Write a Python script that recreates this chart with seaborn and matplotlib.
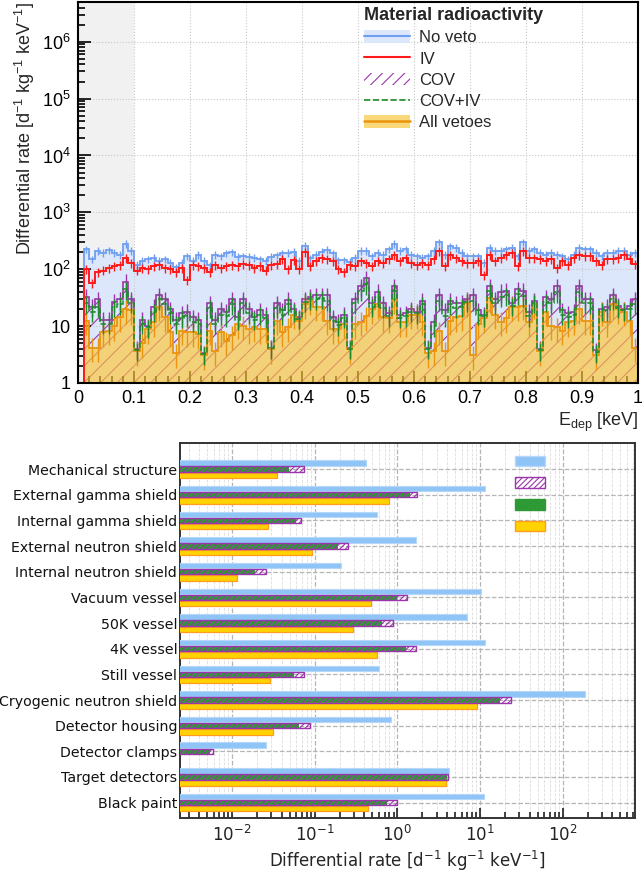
import numpy as np
import pandas as pd
import seaborn as sns
import matplotlib
matplotlib.use('Agg')
from matplotlib import pyplot as plt
from matplotlib.patches import Patch
from matplotlib.lines import Line2D
from matplotlib.ticker import MultipleLocator, LogLocator, FuncFormatter, NullFormatter

# ---- top panel: spectrum, 100 bins of 0.01 keV ----
edges = np.linspace(0, 1, 101)

no_veto = [0, 225, 150, 210, 195, 215, 195, 180, 280, 210, 120, 140, 150, 160, 140, 150, 130, 108, 130, 170, 140, 180, 140, 118, 180,
           170, 190, 200, 165, 170, 165, 160, 150, 140, 165, 175, 190, 195, 205, 140, 260, 155, 180, 205, 220, 190, 145, 145, 135, 160,
           210, 210, 170, 195, 180, 225, 280, 210, 225, 180, 170, 160, 170, 210, 300, 180, 255, 240, 195, 170, 170, 170, 130, 240, 210,
           210, 225, 240, 170, 300, 210, 225, 195, 180, 195, 180, 170, 150, 180, 240, 225, 225, 195, 170, 195, 195, 210, 210, 180, 195]
iv = [0, 100, 57, 90, 95, 105, 113, 120, 160, 130, 95, 105, 100, 113, 120, 105, 100, 88, 105, 65, 120, 113, 105, 88, 120,
      105, 115, 120, 113, 125, 120, 105, 113, 95, 120, 125, 150, 100, 145, 100, 200, 113, 140, 160, 150, 140, 100, 90, 120, 113,
      140, 130, 113, 140, 130, 150, 180, 140, 160, 130, 120, 130, 120, 150, 210, 113, 180, 160, 140, 130, 130, 140, 80, 180, 140,
      160, 180, 190, 113, 210, 160, 160, 150, 140, 150, 105, 140, 120, 160, 180, 171, 171, 140, 120, 150, 150, 160, 180, 150, 125]
cov = [0, 33, 22, 30, 13, 13, 27, 30, 60, 30, 4, 13, 10, 22, 35, 30, 20, 13, 17, 18, 14.5, 13, 3.3, 25, 13,
       20, 18, 30, 14.5, 30, 20, 14.5, 19, 16, 4.2, 25, 19, 29, 20, 14.5, 30, 33, 35, 35, 35, 14.5, 12, 16, 4.2, 30,
       50, 70, 25, 40, 25, 17, 50, 16, 17, 20, 18, 28, 4.2, 12, 35, 19, 28, 25, 26, 30, 35, 19, 16, 50, 30,
       40, 42, 25, 45, 42, 18, 28, 4, 32, 30, 50, 19, 17, 18, 50, 30, 30, 3.8, 20, 22, 35, 23, 20, 23, 30]
cov_iv = [0, 25, 18, 22, 11, 11, 22, 24, 45, 26, 3.8, 11, 9.5, 18, 30, 24, 17, 11, 14, 15, 12, 11, 3.2, 21, 11,
          16, 15, 24, 13, 25, 17, 13, 16, 14, 4.1, 21, 16, 24, 18, 13.5, 27, 30, 30, 31, 28, 12.5, 10.5, 14, 4.0, 25,
          42, 55, 22, 33, 21, 15, 42, 14, 15, 18, 17, 24, 4.0, 10, 28, 15, 24, 21, 22, 27, 28, 16, 15, 42, 25,
          33, 35, 23, 36, 34, 15, 26, 3.8, 27, 25, 40, 16, 14.5, 16, 40, 25, 25, 3.5, 19, 19, 30, 21, 19, 20, 24]
all_vetoes = [0, 12.5, 4.2, 4.2, 7.8, 8.3, 10, 14.5, 20, 19, 3.6, 5.1, 8.9, 11.7, 22, 14.5, 7.8, 3.4, 8.3, 7.8, 7.8, 7.2, 3.1, 8.3, 3.6,
              7.8, 5.5, 7, 11, 10.2, 8.9, 9.5, 8.9, 9, 4.0, 12.5, 7.8, 9.5, 16, 12.5, 24, 28, 22, 22, 12.5, 8.9, 9, 11, 3.9, 11,
              12, 15, 20, 24, 14.5, 14, 30, 11.7, 11.7, 16, 16, 12, 3.4, 3.6, 8.3, 3.6, 12.5, 14.5, 15, 26, 3.1, 11, 14, 31, 16,
              12, 14, 22, 22, 23, 11.7, 24, 3.6, 18, 10.2, 9.5, 8.3, 11.7, 12.5, 20, 12.5, 12.5, 3.1, 18, 11.7, 24, 20, 18, 12.5, 4.2]

# relative statistical errors drawn as bars
rel_err = {'No veto': 0.15, 'IV': 0.18, 'COV': 0.35, 'COV+IV': 0.35, 'All vetoes': 0.45}

# ---- bottom panel: rate per component ----
components = ['Mechanical structure', 'External gamma shield', 'Internal gamma shield',
              'External neutron shield', 'Internal neutron shield', 'Vacuum vessel',
              '50K vessel', '4K vessel', 'Still vessel', 'Cryogenic neutron shield',
              'Detector housing', 'Detector clamps', 'Target detectors', 'Black paint']
rate_no_veto = [0.42, 11.5, 0.57, 1.7, 0.21, 10.3, 6.9, 11.5, 0.60, 185, 0.84, 0.026, 4.2, 11.2]
rate_cov = [0.074, 1.74, 0.068, 0.25, 0.026, 1.32, 0.89, 1.69, 0.074, 23.5, 0.087, 0.0059, 4.1, 1.0]
rate_cov_iv = [0.049, 1.44, 0.059, 0.19, 0.019, 1.0, 0.66, 1.28, 0.056, 17.4, 0.064, 0.0054, 4.0, 0.76]
rate_all = [0.035, 0.80, 0.027, 0.094, 0.0115, 0.48, 0.29, 0.57, 0.029, 9.2, 0.031, np.nan, 3.9, 0.44]

BLUE_FILL = '#dce7fb'
BLUE = '#6f9ef0'
RED = '#ff1a1a'
PURPLE = '#9c35ab'
GREEN = '#1f8a2a'
ORANGE = '#ea9410'
YELLOW = '#ffc735'

sns.set_theme(style='ticks')
plt.rcParams['font.family'] = ['DejaVu Sans']
plt.rcParams['hatch.linewidth'] = 0.8
ROOTFONT = 'Liberation Sans'

fig = plt.figure(figsize=(6.42, 8.72), dpi=100)
ax = fig.add_axes([0.1215, 0.5608, 0.8723, 0.4369])
ax2 = fig.add_axes([0.2804, 0.0619, 0.7087, 0.4301])

# ================= top =================
ax.set_yscale('log')
ax.axvspan(0, 0.1, color='#f1f1f1', lw=0, zorder=0)
centers = 0.5 * (edges[1:] + edges[:-1])


def fill_hist(vals, **kw):
    v = np.asarray(vals, float)
    v = np.where(v > 0, v, 1e-3)
    ax.fill_between(edges, np.append(v, v[-1]), 1e-3, step='post', **kw)


def line_hist(vals, err, color, lw=1.3, ls='-', z=5):
    v = np.asarray(vals, float)
    ax.stairs(np.where(v > 0, v, 1e-3), edges, color=color, lw=lw, ls=ls, zorder=z)
    ok = v > 0
    ax.errorbar(centers[ok], v[ok], yerr=err * v[ok], fmt='none', ecolor=color,
                elinewidth=1.0, zorder=z)


fill_hist(no_veto, color=BLUE_FILL, lw=0, zorder=1)
fill_hist(cov, facecolor='none', edgecolor=PURPLE, hatch='//', lw=0, zorder=2)
fill_hist(all_vetoes, color=YELLOW, alpha=0.66, lw=0, zorder=3)

line_hist(no_veto, rel_err['No veto'], BLUE, z=5)
line_hist(cov, rel_err['COV'], PURPLE, lw=1.2, z=6)
line_hist(all_vetoes, rel_err['All vetoes'], ORANGE, lw=1.3, z=7)
line_hist(cov_iv, rel_err['COV+IV'], GREEN, lw=1.1, ls='--', z=8)
line_hist(iv, rel_err['IV'], RED, lw=1.4, z=9)

ax.set_xlim(0, 1)
ax.set_ylim(1, 5e6)
ax.xaxis.set_major_locator(MultipleLocator(0.1))
ax.xaxis.set_minor_locator(MultipleLocator(0.02))
ax.xaxis.set_major_formatter(FuncFormatter(lambda v, p: f'{v:g}'))
ax.yaxis.set_major_locator(LogLocator(base=10, numticks=10))
ax.yaxis.set_minor_locator(LogLocator(base=10, subs=np.arange(2, 10), numticks=20))
ax.yaxis.set_minor_formatter(NullFormatter())


def yfmt(v, p):
    n = int(round(np.log10(v)))
    if n == 0:
        return '1'
    if n == 1:
        return '10'
    return r'$\mathdefault{10^{%d}}$' % n


ax.yaxis.set_major_formatter(FuncFormatter(yfmt))
ax.tick_params(which='both', direction='in', top=False, right=False, width=1.2, colors='black')
ax.tick_params(which='major', length=9, labelsize=13, pad=5)
ax.tick_params(which='minor', length=5)
for lbl in ax.get_xticklabels() + ax.get_yticklabels():
    lbl.set_fontfamily(ROOTFONT)
ax.grid(True, which='major', ls=':', color='#c8c8c8', lw=0.8)
ax.set_axisbelow(False)
for sp in ax.spines.values():
    sp.set_linewidth(1.5)
    sp.set_color('black')
    sp.set_zorder(20)

ax.set_ylabel(r'Differential rate [d$^{\mathdefault{-1}}$ kg$^{\mathdefault{-1}}$ keV$^{\mathdefault{-1}}$]',
              fontsize=13, family=ROOTFONT, loc='top', labelpad=4)
ax.set_xlabel(r'E$_{\mathdefault{dep}}$ [keV]', fontsize=13, family=ROOTFONT, loc='right', labelpad=3)

top_handles = [
    (Patch(facecolor=BLUE_FILL, edgecolor='none'), Line2D([], [], color=BLUE, lw=1.5)),
    Line2D([], [], color=RED, lw=1.5),
    Patch(facecolor='none', edgecolor=PURPLE, hatch='///', lw=0),
    Line2D([], [], color=GREEN, lw=1.2, ls='--'),
    (Patch(facecolor='#f8d878', edgecolor='none'), Line2D([], [], color=ORANGE, lw=1.8)),
]
top_labels = ['No veto', 'IV', 'COV', 'COV+IV', 'All vetoes']
leg = ax.legend(top_handles, top_labels, loc='upper left', bbox_to_anchor=(0.505, 0.995),
                borderaxespad=0, borderpad=0.2, frameon=False,
                title='Material radioactivity',
                title_fontproperties={'family': ROOTFONT, 'weight': 'bold', 'size': 13},
                prop={'family': ROOTFONT, 'size': 12}, handlelength=2.75, handleheight=0.8,
                handletextpad=0.55, labelspacing=0.36, alignment='left')
leg.set_zorder(30)

# ================= bottom =================
pos = np.arange(len(components))
OFF = 0.24
W = 0.21
bars = pd.DataFrame({'pos': pos, 'no_veto': rate_no_veto, 'cov': rate_cov,
                     'cov_iv': rate_cov_iv, 'all': rate_all})

sns.barplot(x=bars['no_veto'], y=bars['pos'] - OFF, orient='h', native_scale=True, width=W,
            color='#8fc4f6', saturation=1, edgecolor='#b5d8fa', linewidth=0.8,
            errorbar=None, ax=ax2, zorder=3)
sns.barplot(x=bars['cov_iv'], y=bars['pos'].astype(float), orient='h', native_scale=True, width=W,
            color='#2e9a35', saturation=1, linewidth=0, errorbar=None, ax=ax2, zorder=3)
sns.barplot(x=bars['cov'], y=bars['pos'].astype(float), orient='h', native_scale=True, width=W,
            color=PURPLE, saturation=1, fill=False, hatch='//////', linewidth=1.0,
            errorbar=None, ax=ax2, zorder=4)
sns.barplot(x=bars['all'], y=bars['pos'] + OFF, orient='h', native_scale=True, width=W,
            color='#ffd200', saturation=1, edgecolor='#ff9d1c', linewidth=0.9,
            errorbar=None, ax=ax2, zorder=3)

ax2.set_xscale('log')
ax2.set_xlim(2.35e-3, 750)
ax2.set_ylim(13.6, -1.02)
ax2.set_yticks(pos)
ax2.set_yticklabels(components)
ax2.set_xlabel(r'Differential rate [d$^{-1}$ kg$^{-1}$ keV$^{-1}$]', fontsize=12, labelpad=3)
ax2.set_ylabel('')
ax2.xaxis.set_major_locator(LogLocator(base=10, numticks=10))
ax2.xaxis.set_minor_locator(LogLocator(base=10, subs=np.arange(2, 10), numticks=40))
ax2.xaxis.set_minor_formatter(NullFormatter())
ax2.tick_params(axis='x', which='both', direction='in', bottom=True, top=False, width=1.2, colors='#222222')
ax2.tick_params(axis='x', which='major', length=7, labelsize=12, pad=5)
ax2.tick_params(axis='x', which='minor', length=4)
ax2.tick_params(axis='y', length=0, labelsize=10.2, pad=2, colors='#111111')
ax2.grid(True, which='major', axis='both', ls='--', color='#b5b5b5', lw=0.9)
ax2.grid(True, which='minor', axis='x', ls='--', color='#dddddd', lw=0.6)
ax2.set_axisbelow(True)
for sp in ax2.spines.values():
    sp.set_linewidth(1.4)
    sp.set_color('#333333')

bottom_handles = [
    Patch(facecolor='#8fc4f6', edgecolor='#b5d8fa'),
    Patch(facecolor='white', edgecolor=PURPLE, hatch='//////'),
    Patch(facecolor='#2e9a35', edgecolor='#2e9a35'),
    Patch(facecolor='#ffd200', edgecolor='#ff9d1c'),
]
ax2.legend(bottom_handles, ['', '', '', ''], loc='upper left', bbox_to_anchor=(0.736, 0.968),
           borderaxespad=0, borderpad=0, frameon=False, prop={'size': 10},
           handlelength=2.15, handleheight=0.8, handletextpad=0, labelspacing=0.55)

fig.savefig('out.png', dpi=100)
